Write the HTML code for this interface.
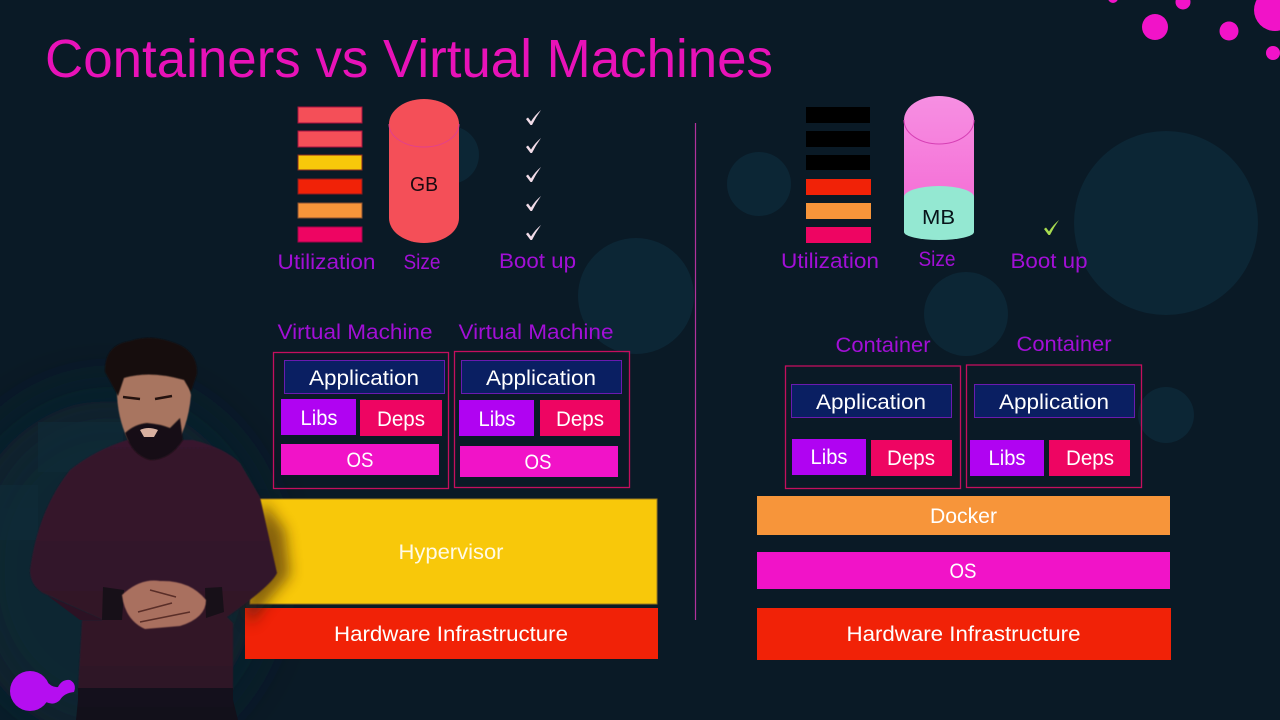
<!DOCTYPE html>
<html><head><meta charset="utf-8"><title>Containers vs Virtual Machines</title>
<style>
html,body{margin:0;padding:0;background:#0b1a26;width:1280px;height:720px;overflow:hidden}
svg{display:block}
text{font-family:"Liberation Sans",sans-serif;text-anchor:middle}
.w{fill:#fff;font-size:21px}
.p{fill:#a20fd6;font-size:21px}
</style></head><body>
<svg width="1280" height="720" viewBox="0 0 1280 720" xmlns="http://www.w3.org/2000/svg">
<defs>
<filter id="b05" x="-10%" y="-10%" width="120%" height="120%"><feGaussianBlur stdDeviation="0.6"/></filter>
<filter id="b8" x="-60%" y="-60%" width="220%" height="220%"><feGaussianBlur stdDeviation="7"/></filter>
<filter id="b30" x="-60%" y="-60%" width="220%" height="220%"><feGaussianBlur stdDeviation="30"/></filter>
<linearGradient id="cyl" x1="0" y1="0" x2="0" y2="1"><stop offset="0" stop-color="#f68fe2"/><stop offset="1" stop-color="#f56fd6"/></linearGradient>
<linearGradient id="sw" x1="0" y1="0" x2="0" y2="1"><stop offset="0" stop-color="#37172d"/><stop offset="1" stop-color="#2f1426"/></linearGradient>
<path id="ck" d="M0 8 L2 6.500 L5 10.500 Q9 4 15 -1 Q10 6 6 14 L4.500 14 Z"/>
</defs>
<rect width="1280" height="720" fill="#0a1a26"/>
<ellipse cx="110" cy="570" rx="150" ry="170" fill="#0d2632" filter="url(#b30)"/>
<g fill="#0c2635">
<circle cx="636" cy="296" r="58"/><circle cx="759" cy="184" r="32"/><circle cx="966" cy="314" r="42"/><circle cx="1166" cy="223" r="92"/><circle cx="1166" cy="415" r="28"/><circle cx="450" cy="155" r="29"/>
</g>
<g fill="#f113c8">
<circle cx="1155" cy="27" r="13"/><circle cx="1229" cy="31" r="9.500"/><circle cx="1273" cy="53" r="7"/><circle cx="1183" cy="2" r="7.500"/><circle cx="1113" cy="-2" r="5"/><circle cx="1275" cy="10" r="21"/>
</g>
<text x="409" y="77" style="font-size:54px;fill:#e812b8" textLength="728" lengthAdjust="spacingAndGlyphs">Containers vs Virtual Machines</text>
<line x1="695.500" y1="123" x2="695.500" y2="620" stroke="#b2329c" stroke-width="1.200"/>

<!-- left bars -->
<g stroke-width="1">
<rect x="298" y="107" width="64" height="16" fill="#f44f58" stroke="#a8123f"/>
<rect x="298" y="131" width="64" height="16" fill="#f44f58" stroke="#a8123f"/>
<rect x="298" y="155" width="64" height="15" fill="#f8c80a" stroke="#8a2a20"/>
<rect x="298" y="179" width="64" height="15" fill="#f12207" stroke="#8a1a20"/>
<rect x="298" y="203" width="64" height="15" fill="#f7953a" stroke="#8a5030"/>
<rect x="298" y="227" width="64" height="15" fill="#ee0562" stroke="#a0054a"/>
</g>
<!-- GB cylinder -->
<path d="M389 124 A35 25 0 0 1 459 124 V218 A35 25 0 0 1 389 218 Z" fill="#f44f58"/>
<path d="M389 124 A35 23 0 0 0 459 124" fill="none" stroke="#e2408c" stroke-width="1"/>
<text x="424" y="191" style="font-size:20px;fill:#1a0a10" textLength="28" lengthAdjust="spacingAndGlyphs">GB</text>
<text x="326.500" y="269" class="p" textLength="98" lengthAdjust="spacingAndGlyphs">Utilization</text>
<text x="422" y="269" class="p" textLength="37" lengthAdjust="spacingAndGlyphs">Size</text>
<text x="537.500" y="268" class="p" textLength="77" lengthAdjust="spacingAndGlyphs">Boot up</text>
<g fill="#f1dce8">
<use href="#ck" transform="translate(526,111)"/><use href="#ck" transform="translate(526,139)"/><use href="#ck" transform="translate(526,168)"/><use href="#ck" transform="translate(526,197)"/><use href="#ck" transform="translate(526,226)"/>
</g>

<!-- right bars -->
<rect x="806" y="107" width="64" height="16" fill="#000"/>
<rect x="806" y="131" width="64" height="16" fill="#000"/>
<rect x="806" y="155" width="64" height="15" fill="#000"/>
<rect x="806" y="179" width="65" height="16" fill="#f12207"/>
<rect x="806" y="203" width="65" height="16" fill="#f7953a"/>
<rect x="806" y="227" width="65" height="16" fill="#ee0562"/>
<!-- MB cylinder -->
<path d="M904 120 A35 24 0 0 1 974 120 V205 H904 Z" fill="url(#cyl)"/>
<path d="M904 120 A35 24 0 0 0 974 120" fill="none" stroke="#d63fb4" stroke-width="1"/>
<path d="M904 197 A35 11 0 0 1 974 197 V232 A35 8 0 0 1 904 232 Z" fill="#94e8d2"/>
<text x="938.500" y="224" style="font-size:20px;fill:#08141a" textLength="33" lengthAdjust="spacingAndGlyphs">MB</text>
<text x="830" y="268" class="p" textLength="98" lengthAdjust="spacingAndGlyphs">Utilization</text>
<text x="937" y="266" class="p" textLength="37" lengthAdjust="spacingAndGlyphs">Size</text>
<text x="1049" y="268" class="p" textLength="77" lengthAdjust="spacingAndGlyphs">Boot up</text>
<use href="#ck" transform="translate(1044,221)" fill="#a8dc50"/>

<!-- VMs -->
<text x="355" y="339" class="p" textLength="155" lengthAdjust="spacingAndGlyphs">Virtual Machine</text>
<text x="536" y="339" class="p" textLength="155" lengthAdjust="spacingAndGlyphs">Virtual Machine</text>
<rect x="273.500" y="352.500" width="175" height="136" fill="none" stroke="#c40f5e" stroke-width="1.300"/>
<rect x="454.500" y="351.500" width="175" height="136" fill="none" stroke="#c40f5e" stroke-width="1.300"/>
<rect x="284.500" y="360.500" width="160" height="33" fill="#0a1f62" stroke="#6a1ab0"/>
<rect x="461.500" y="360.500" width="160" height="33" fill="#0a1f62" stroke="#6a1ab0"/>
<text x="364" y="385" class="w" textLength="110" lengthAdjust="spacingAndGlyphs">Application</text>
<text x="541" y="385" class="w" textLength="110" lengthAdjust="spacingAndGlyphs">Application</text>
<rect x="281" y="399" width="75" height="36" fill="#b003f2"/>
<rect x="360" y="400" width="82" height="36" fill="#ee0562"/>
<rect x="459" y="400" width="75" height="36" fill="#b003f2"/>
<rect x="540" y="400" width="80" height="36" fill="#ee0562"/>
<text x="319" y="425" class="w" textLength="37" lengthAdjust="spacingAndGlyphs">Libs</text>
<text x="401" y="426" class="w" textLength="48" lengthAdjust="spacingAndGlyphs">Deps</text>
<text x="497" y="426" class="w" textLength="37" lengthAdjust="spacingAndGlyphs">Libs</text>
<text x="580" y="426" class="w" textLength="48" lengthAdjust="spacingAndGlyphs">Deps</text>
<rect x="281" y="444" width="158" height="31" fill="#f113c8"/>
<rect x="460" y="446" width="158" height="31" fill="#f113c8"/>
<text x="360" y="467" class="w" textLength="27" lengthAdjust="spacingAndGlyphs">OS</text>
<text x="538" y="469" class="w" textLength="27" lengthAdjust="spacingAndGlyphs">OS</text>

<!-- Containers -->
<text x="883" y="352" class="p" textLength="95" lengthAdjust="spacingAndGlyphs">Container</text>
<text x="1064" y="351" class="p" textLength="95" lengthAdjust="spacingAndGlyphs">Container</text>
<rect x="785.500" y="366" width="175" height="122.500" fill="none" stroke="#c40f5e" stroke-width="1.300"/>
<rect x="966.500" y="365" width="175" height="122.500" fill="none" stroke="#c40f5e" stroke-width="1.300"/>
<rect x="791.500" y="384.500" width="160" height="33" fill="#0a1f62" stroke="#6a1ab0"/>
<rect x="974.500" y="384.500" width="160" height="33" fill="#0a1f62" stroke="#6a1ab0"/>
<text x="871" y="409" class="w" textLength="110" lengthAdjust="spacingAndGlyphs">Application</text>
<text x="1054" y="409" class="w" textLength="110" lengthAdjust="spacingAndGlyphs">Application</text>
<rect x="792" y="439" width="74" height="36" fill="#b003f2"/>
<rect x="871" y="440" width="81" height="36" fill="#ee0562"/>
<rect x="970" y="440" width="74" height="36" fill="#b003f2"/>
<rect x="1049" y="440" width="81" height="36" fill="#ee0562"/>
<text x="829" y="464" class="w" textLength="37" lengthAdjust="spacingAndGlyphs">Libs</text>
<text x="911" y="465" class="w" textLength="48" lengthAdjust="spacingAndGlyphs">Deps</text>
<text x="1007" y="465" class="w" textLength="37" lengthAdjust="spacingAndGlyphs">Libs</text>
<text x="1090" y="465" class="w" textLength="48" lengthAdjust="spacingAndGlyphs">Deps</text>

<!-- Left stack -->
<rect x="250" y="499" width="407" height="105" fill="#f8c80a" stroke="#9a7a20" stroke-width="1"/>
<text x="451" y="559" class="w" fill-opacity=".9" textLength="105" lengthAdjust="spacingAndGlyphs">Hypervisor</text>
<rect x="245" y="608" width="413" height="51" fill="#f12207"/>
<text x="451" y="641" class="w" textLength="234" lengthAdjust="spacingAndGlyphs">Hardware Infrastructure</text>

<!-- Right stack -->
<rect x="757" y="496" width="413" height="39" fill="#f7953a"/>
<text x="963.500" y="523" class="w" textLength="67" lengthAdjust="spacingAndGlyphs">Docker</text>
<rect x="757" y="552" width="413" height="37" fill="#f113c8"/>
<text x="963" y="578" class="w" textLength="27" lengthAdjust="spacingAndGlyphs">OS</text>
<rect x="757" y="608" width="414" height="52" fill="#f12207"/>
<text x="963.500" y="641" class="w" textLength="234" lengthAdjust="spacingAndGlyphs">Hardware Infrastructure</text>

<!-- Presenter -->
<g>
<path d="M262 500 L285 530 L290 575 L265 604 L250 625 L245 604 Z" fill="#3a1c0c" opacity=".6" filter="url(#b8)"/>
<g fill="#0f2b38" opacity=".6"><rect x="38" y="422" width="85" height="50"/><rect x="0" y="485" width="38" height="55"/></g>
<path d="M76 720 L78 700 L233 700 L238 720 Z" fill="#12101a"/>
<path d="M78 690 L82 620 L103 620 L43 593 Q30 585 30 570 Q38 510 70 470 Q95 450 127 440 L193 440 Q225 448 240 463 L260 497 L277 573 Q272 585 227 617 L233 623 L233 690 Z" fill="url(#sw)" filter="url(#b05)"/>
<path d="M80 620 L103 620 L48 596 Z" fill="#2c1224"/>
<path d="M78 688 H233 V707 H78 Z" fill="#14101c"/>
<path d="M103 587 L124 590 L122 620 L102 620 Z" fill="#171018"/>
<path d="M205 588 L222 587 L224 612 L206 618 Z" fill="#171018"/>
<path d="M122 595 Q140 578 160 581 Q190 580 206 600 Q206 618 180 626 L145 629 Q125 620 122 595 Z" fill="#a9705e" filter="url(#b05)"/>
<path d="M150 590 L176 597 M138 612 L172 603 M140 622 L190 612" stroke="#5a2e28" stroke-width="1.500" fill="none"/>
<path d="M117 385 Q116 415 128 440 Q150 462 172 450 Q188 430 191 395 L185 370 L125 368 Z" fill="#a87560" filter="url(#b05)"/>
<path d="M125 433 Q135 424 147 423 Q160 424 170 428 L180 418 L183 440 Q170 460 150 460 Q132 455 125 433 Z" fill="#171012" filter="url(#b05)"/>
<path d="M140 430 Q148 426 158 430 L154 437 L144 437 Z" fill="#d8b0a0"/>
<path d="M105 372 Q104 345 130 341 Q150 334 172 342 Q198 350 197 374 L191 392 L184 380 Q150 370 124 378 L118 396 Z" fill="#19100f" filter="url(#b05)"/>
<path d="M123 397 L140 399 M155 399 L172 396" stroke="#24120f" stroke-width="2.500" fill="none"/>
</g>
<!-- Logo -->
<circle cx="30" cy="691" r="20" fill="#b50ef0"/>
<path d="M45 680 Q52 688 58 687 Q62 679 70 680 Q77 684 74 692 Q64 693 60 700 Q54 706 46 702 Z" fill="#b50ef0"/>
</svg>
</body></html>
